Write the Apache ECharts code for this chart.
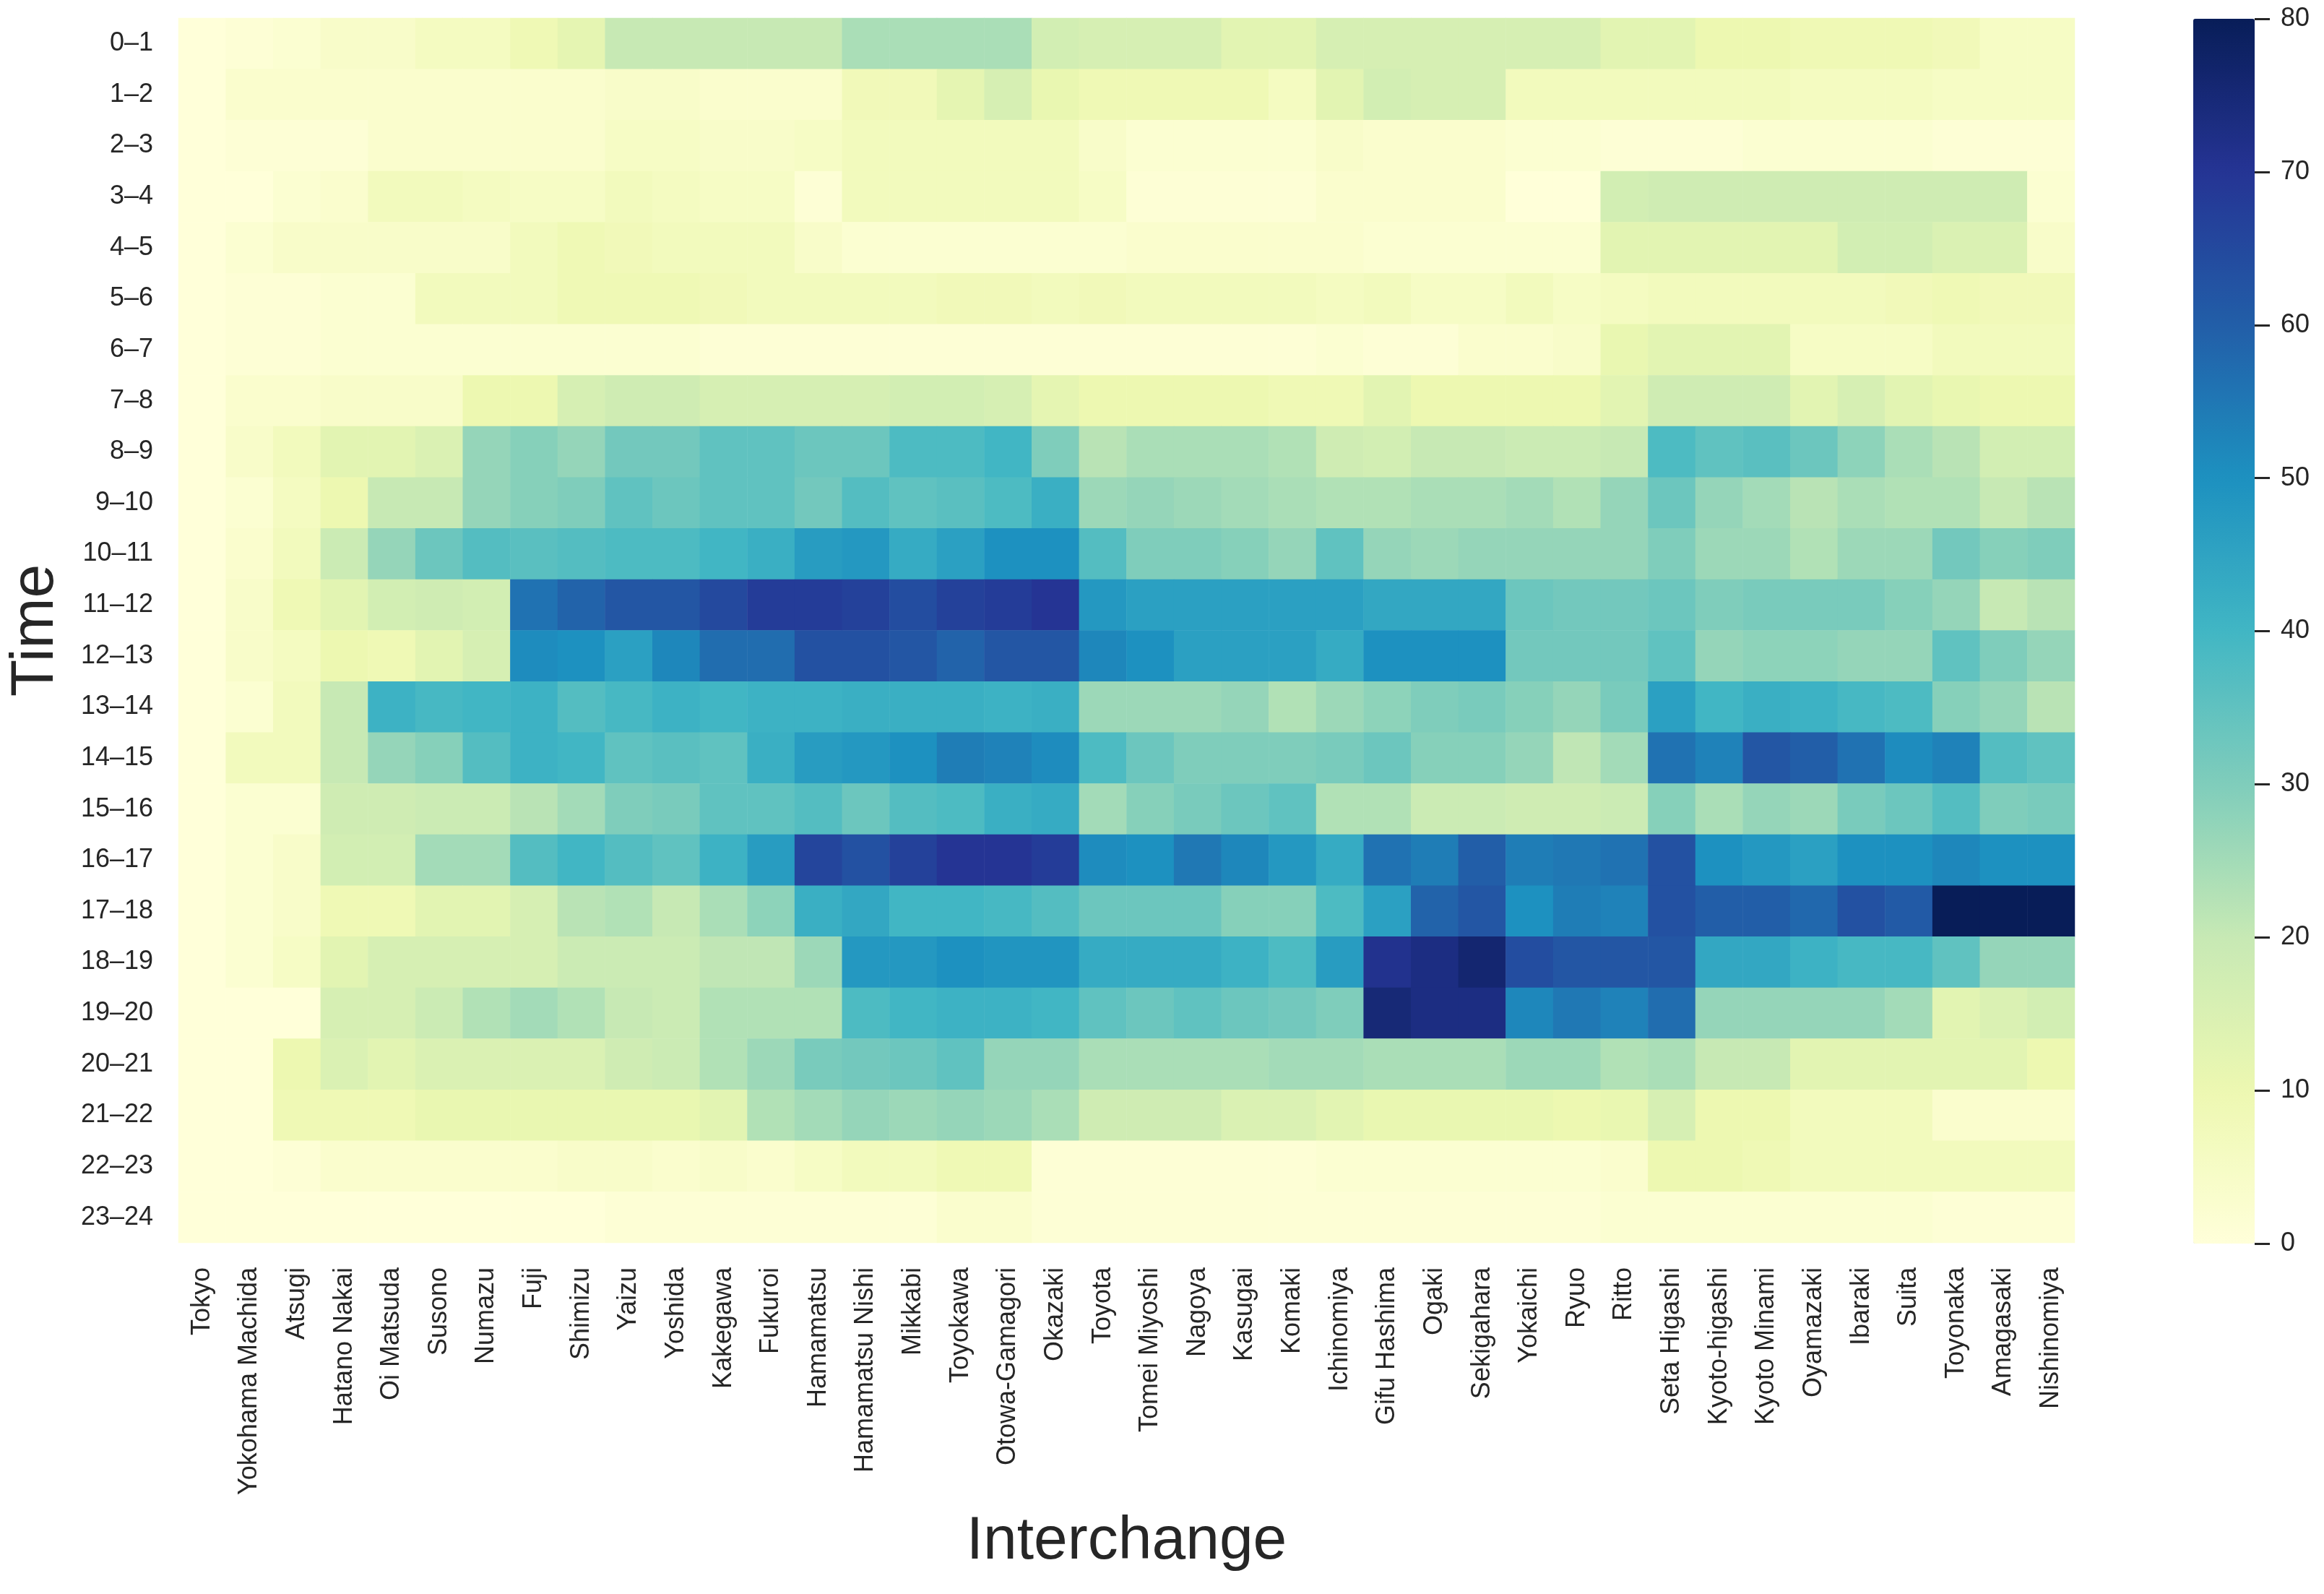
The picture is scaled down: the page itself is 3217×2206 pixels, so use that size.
<!DOCTYPE html>
<html>
<head>
<meta charset="utf-8">
<script src="https://cdn.jsdelivr.net/npm/echarts@6/dist/echarts.min.js"></script>
<style>
  html, body { margin: 0; padding: 0; background: #fff; }
  #chart { width: 3217px; height: 2206px; }
</style>
</head>
<body>
<div id="chart"></div>
<script>
// interchanges, west of Tokyo along the Tomei / Meishin
const interchanges = ['Tokyo', 'Yokohama Machida', 'Atsugi', 'Hatano Nakai', 'Oi Matsuda', 'Susono', 'Numazu', 'Fuji',
    'Shimizu', 'Yaizu', 'Yoshida', 'Kakegawa', 'Fukuroi', 'Hamamatsu', 'Hamamatsu Nishi', 'Mikkabi', 'Toyokawa',
    'Otowa-Gamagori', 'Okazaki', 'Toyota', 'Tomei Miyoshi', 'Nagoya', 'Kasugai', 'Komaki', 'Ichinomiya', 'Gifu Hashima',
    'Ogaki', 'Sekigahara', 'Yokaichi', 'Ryuo', 'Ritto', 'Seta Higashi', 'Kyoto-higashi', 'Kyoto Minami', 'Oyamazaki',
    'Ibaraki', 'Suita', 'Toyonaka', 'Amagasaki', 'Nishinomiya'];

const hours = ['0\u20131', '1\u20132', '2\u20133', '3\u20134', '4\u20135', '5\u20136', '6\u20137', '7\u20138', '8\u20139',
    '9\u201310', '10\u201311', '11\u201312', '12\u201313', '13\u201314', '14\u201315', '15\u201316', '16\u201317',
    '17\u201318', '18\u201319', '19\u201320', '20\u201321', '21\u201322', '22\u201323', '23\u201324'];

const cbarTicks = [0, 10, 20, 30, 40, 50, 60, 70, 80];

// one array per hour, one value per interchange
const h00 = [0,1,2,4,4,6,6,9,12,20, 20,20,20,20,24,24,24,24,17,16, 16,16,13,13,16,16,16,16,16,16, 13,13,10,10,9,9,9,8,5,5];
const h01 = [0,3,3,3,3,3,3,3,3,4, 4,3,3,3,8,8,12,16,11,9, 9,9,9,6,13,17,16,16,7,7, 7,7,7,7,6,6,6,5,5,5];
const h02 = [0,1,1,1,3,3,3,3,3,5, 5,4,4,5,7,7,7,7,7,4, 2,2,2,2,4,3,3,3,2,2, 1,1,1,2,2,2,2,1,1,1];
const h03 = [0,0,2,3,7,7,6,5,5,7, 6,5,5,1,7,7,7,7,7,5, 1,1,1,1,3,3,3,3,0,0, 17,18,18,18,18,18,18,18,18,2];
const h04 = [0,2,4,4,4,4,4,7,9,8, 7,7,7,4,2,2,2,2,2,2, 3,3,3,3,3,2,2,2,2,2, 13,13,13,13,13,17,17,15,15,4];
const h05 = [0,1,1,2,2,7,7,7,9,9, 9,8,7,7,7,7,8,8,7,8, 7,7,7,7,6,7,5,5,7,5, 6,7,7,7,7,7,8,9,8,8];
const h06 = [0,1,1,2,2,2,2,2,2,2, 2,1,1,1,1,1,1,1,1,1, 1,1,1,1,2,1,1,3,3,4, 11,13,13,13,5,5,5,7,7,7];
const h07 = [0,3,3,4,4,4,10,10,16,18, 18,16,16,16,16,17,17,16,12,10, 10,10,10,9,9,13,10,10,10,10, 13,18,18,18,13,16,13,11,10,10];
const h08 = [0,4,7,13,13,15,27,29,27,32, 32,35,35,33,33,38,38,40,30,22, 24,24,24,23,18,17,20,20,19,19, 20,38,35,36,33,28,24,22,17,17];
const h09 = [0,2,6,10,20,20,27,29,30,35, 33,35,35,32,37,35,36,38,42,26, 27,26,25,24,23,23,24,24,25,23, 27,33,27,25,22,24,23,23,20,22];
const h10 = [0,3,7,19,27,33,37,36,37,38, 38,40,42,47,48,43,46,50,50,37, 30,30,29,27,35,27,26,27,27,27, 27,30,26,26,23,26,26,32,29,30];
const h11 = [0,4,9,13,17,18,17,56,59,62, 62,65,68,68,67,64,67,68,70,48, 46,46,46,46,46,44,44,44,33,32, 32,33,30,31,31,31,29,27,20,22];
const h12 = [0,4,6,10,9,13,16,51,50,46, 52,57,57,63,63,62,59,62,62,52, 50,46,46,46,43,50,50,50,32,32, 32,35,27,28,28,27,27,35,30,27];
const h13 = [0,2,7,20,41,39,40,41,37,39, 41,40,41,41,42,42,42,41,42,26, 26,26,27,23,26,28,30,31,29,27, 31,46,40,42,41,39,38,29,27,22];
const h14 = [0,7,7,20,27,29,37,41,40,35, 36,35,42,47,48,50,54,53,51,38, 33,30,30,30,31,33,29,29,27,21, 25,56,53,62,60,56,51,53,37,35];
const h15 = [0,2,2,18,18,19,19,22,25,30, 31,35,35,37,33,37,38,42,43,25, 29,31,33,35,23,23,19,19,18,18, 19,29,24,27,26,31,33,37,30,31];
const h16 = [0,2,4,17,17,25,25,37,40,37, 35,41,47,66,63,67,70,70,68,51, 50,55,52,48,43,56,54,60,54,55, 56,63,50,48,46,50,50,52,50,50];
const h17 = [0,2,4,9,9,13,13,16,22,23, 20,24,28,42,44,40,40,39,37,33, 33,33,29,29,38,46,59,62,50,54, 53,63,60,60,58,63,61,80,80,80];
const h18 = [0,2,5,13,16,16,16,16,19,19, 19,21,21,26,48,48,50,49,49,43, 43,43,41,38,47,71,73,76,64,62, 62,62,44,44,41,39,39,35,27,27];
const h19 = [0,0,0,16,16,19,23,25,23,20, 19,23,23,23,38,40,41,41,40,35, 33,35,33,32,30,75,73,73,52,55, 53,57,27,27,27,27,25,13,15,17];
const h20 = [0,0,10,15,13,15,15,15,15,18, 19,23,26,31,32,33,35,27,27,24, 24,24,24,25,25,24,24,24,26,26, 23,24,20,20,13,13,13,13,13,10];
const h21 = [0,0,9,9,9,11,11,11,11,11, 11,13,23,25,27,26,27,26,24,18, 18,18,15,15,13,11,11,11,11,10, 11,16,10,10,7,7,7,3,3,3];
const h22 = [0,0,1,3,3,3,3,3,4,4, 3,4,3,5,7,7,9,9,1,1, 1,1,1,1,2,2,2,2,2,2, 3,10,10,9,7,7,7,7,7,7];
const h23 = [0,0,0,0,0,0,0,0,0,1, 1,1,1,1,1,1,3,3,1,1, 1,1,1,1,1,1,1,1,1,1, 2,2,2,2,2,2,2,1,1,1];

const hourRows = [h00, h01, h02, h03, h04, h05, h06, h07, h08, h09, h10, h11,
    h12, h13, h14, h15, h16, h17, h18, h19, h20, h21, h22, h23];

// YlGnBu
const ylGnBu = ['#ffffd9', '#edf8b1', '#c7e9b4', '#7fcdbb', '#41b6c4', '#1d91c0', '#225ea8', '#253494', '#081d58'];

const FONT = '"Liberation Sans", Arial, sans-serif';
const INK = '#262626';

let cells = [];
hourRows.forEach((row, y) => {
    row.forEach((v, x) => {
        cells.push([x, y, v]);
    });
});

let chartDom = document.getElementById('chart');
let myChart = echarts.init(chartDom, null, {renderer: 'canvas'});

let option = {
    animation: false,
    backgroundColor: '#ffffff',
    textStyle: {fontFamily: FONT, color: INK},
    grid: [
        {left: 242, top: 25, width: 2630, height: 1695},
        // holds the colour bar ticks
        {left: 3036, top: 26, width: 85, height: 1695}
    ],
    xAxis: [
        {
            type: 'category',
            gridIndex: 0,
            data: interchanges,
            position: 'bottom',
            axisLine: {show: false},
            axisTick: {show: false},
            splitLine: {show: false},
            axisLabel: {
                interval: 0,
                rotate: 90,
                margin: 34,
                fontSize: 36,
                fontFamily: FONT,
                color: INK
            },
            name: 'Interchange',
            nameLocation: 'middle',
            nameGap: 372,
            nameTextStyle: {fontSize: 84, fontFamily: FONT, color: INK}
        },
        {
            type: 'category',
            gridIndex: 1,
            show: false,
            data: ['']
        }
    ],
    yAxis: [
        {
            type: 'category',
            gridIndex: 0,
            data: hours,
            inverse: true,
            axisLine: {show: false},
            axisTick: {show: false},
            splitLine: {show: false},
            axisLabel: {
                interval: 0,
                margin: 35,
                fontSize: 36,
                fontFamily: FONT,
                color: INK
            },
            name: 'Time',
            nameLocation: 'middle',
            nameRotate: 90,
            nameGap: 155,
            nameTextStyle: {fontSize: 84, fontFamily: FONT, color: INK}
        },
        {
            type: 'value',
            gridIndex: 1,
            position: 'right',
            z: 10,
            min: cbarTicks[0],
            max: cbarTicks[cbarTicks.length - 1],
            interval: cbarTicks[1] - cbarTicks[0],
            axisLine: {show: false, onZero: false},
            splitLine: {show: false},
            axisTick: {show: true, length: 21, lineStyle: {color: INK, width: 3}},
            axisLabel: {margin: 36, fontSize: 36, fontFamily: FONT, color: INK}
        }
    ],
    visualMap: {
        type: 'continuous',
        seriesIndex: 0,
        min: 0,
        max: 80,
        calculable: false,
        orient: 'vertical',
        left: 3036,
        top: 26,
        padding: 0,
        itemWidth: 85,
        itemHeight: 1695,
        text: null,
        showLabel: false,
        inRange: {color: ylGnBu}
    },
    series: [{
        type: 'heatmap',
        xAxisIndex: 0,
        yAxisIndex: 0,
        data: cells,
        itemStyle: {borderWidth: 0},
        emphasis: {disabled: true}
    }]
};

option && myChart.setOption(option);
</script>
</body>
</html>
